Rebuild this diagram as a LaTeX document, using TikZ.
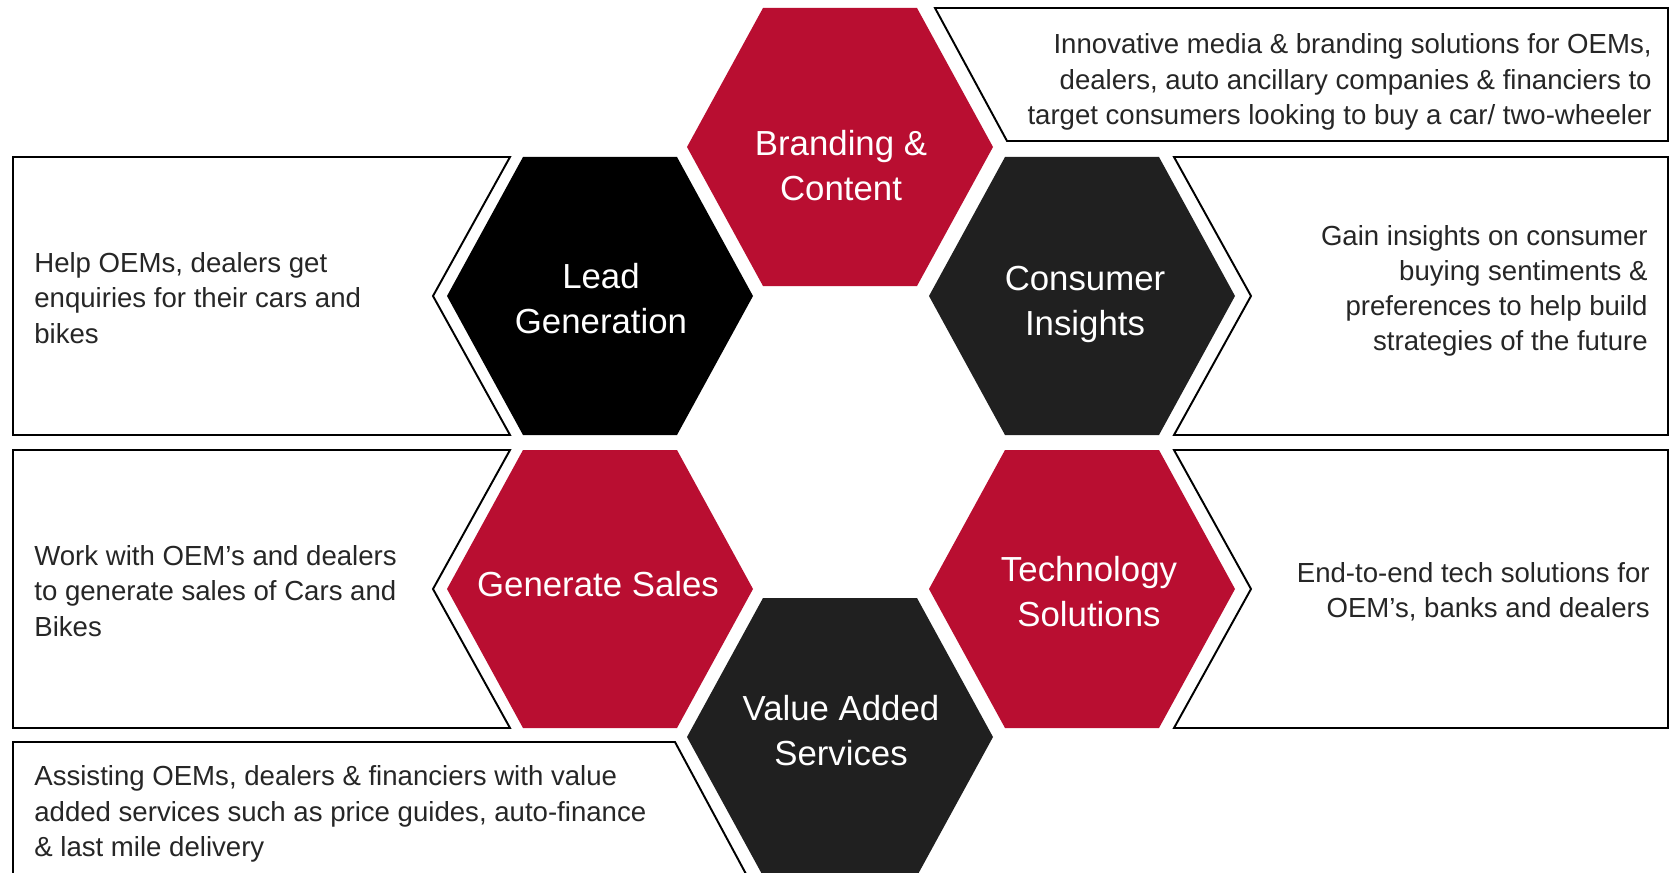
\documentclass[tikz,border=0pt]{standalone}
\usepackage{fontspec}
\setmainfont{Liberation Sans}
\usepackage{xcolor}
\definecolor{hexred}{HTML}{B90E31}
\definecolor{hexgray}{HTML}{202020}

\begin{document}
\begin{tikzpicture}[x=0.2mm, y=-0.2mm,
    box/.style={draw=black, line width=1.1pt},
    desc/.style={inner sep=0pt, text=black!85, font=\fontsize{15.7}{20}\selectfont},
    hexlabel/.style={inner sep=0pt, text=white, align=center, font=\fontsize{19.8}{25.6}\selectfont},
    pics/hexcell/.style={code={\fill[#1] (-153,0) -- (-77,-139) -- (77,-139) -- (153,0) -- (77,139) -- (-77,139) -- cycle;}}]
    \path[use as bounding box, fill=white] (0,0) rectangle (1670,873);
    \clip (0,0) rectangle (1670,873);

    \pic at (840,147) {hexcell=hexred};
    \pic at (600,296) {hexcell=black};
    \pic at (1082,296) {hexcell=hexgray};
    \pic at (600,589) {hexcell=hexred};
    \pic at (1082,589) {hexcell=hexred};
    \pic at (840,737) {hexcell=hexgray};

    \draw[box] (935,8) -- (1668,8) -- (1668,141) -- (1007,141) -- cycle;
    \draw[box] (13,157) -- (510,157) -- (433,296) -- (510,435) -- (13,435) -- cycle;
    \draw[box] (1174,157) -- (1668,157) -- (1668,435) -- (1174,435) -- (1251,296) -- cycle;
    \draw[box] (13,450) -- (510,450) -- (433,589) -- (510,728) -- (13,728) -- cycle;
    \draw[box] (1174,450) -- (1668,450) -- (1668,728) -- (1174,728) -- (1251,589) -- cycle;
    \draw[box] (13,742) -- (675,742) -- (760,900) -- (13,900) -- cycle;

    \node[hexlabel] (brand) at (841,166) {Branding \&\\Content};
    \node[hexlabel] (lead) at (601,299) {Lead\\Generation};
    \node[hexlabel] (insight) at (1085,304) {Consumer\\Insights};
    \node[hexlabel] (sales) at (598,584) {Generate Sales};
    \node[hexlabel] (tech) at (1089,592) {Technology\\Solutions};
    \node[hexlabel] (vas) at (841,731) {Value Added\\Services};

    \node[desc, anchor=east, align=right] (brandtxt) at (1652,82) {Innovative media \& branding solutions for OEMs,\\dealers, auto ancillary companies \& financiers to\\target consumers looking to buy a car/ two-wheeler};
    \node[desc, anchor=west, align=left] (leadtxt) at (34,298) {Help OEMs, dealers get\\enquiries for their cars and\\bikes};
    \node[desc, anchor=east, align=right] (insighttxt) at (1648,291) {Gain insights on consumer\\buying sentiments \&\\preferences to help build\\strategies of the future};
    \node[desc, anchor=west, align=left] (salestxt) at (34,591) {Work with OEM's and dealers\\to generate sales of Cars and\\Bikes};
    \node[desc, anchor=east, align=right] (techtxt) at (1650,592) {End-to-end tech solutions for\\OEM's, banks and dealers};
    \node[desc, anchor=west, align=left] (vastxt) at (34,814) {Assisting OEMs, dealers \& financiers with value\\added services such as price guides, auto-finance\\\& last mile delivery};
\end{tikzpicture}
\end{document}
